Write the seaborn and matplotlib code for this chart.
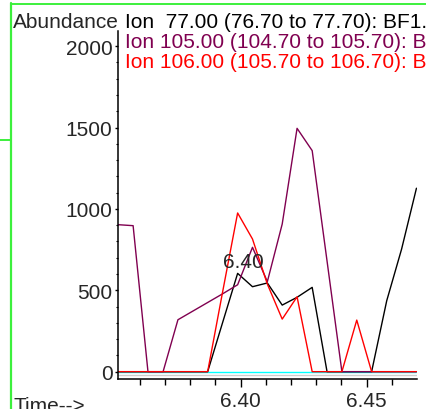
import numpy as np
import matplotlib
matplotlib.use("Agg")
import matplotlib.pyplot as plt
import seaborn as sns
import pandas as pd
from matplotlib.lines import Line2D
from matplotlib.ticker import MultipleLocator, FixedLocator

# scan times (min)
time = [6.3514, 6.3573, 6.3632, 6.3692, 6.3751, 6.3810, 6.3869, 6.3928,
        6.3988, 6.4047, 6.4106, 6.4165, 6.4224, 6.4284, 6.4343, 6.4402,
        6.4461, 6.4520, 6.4580, 6.4639, 6.4698]

ion77 = [0, 0, 0, 0, 0, 0, 0, 300, 604, 522, 545, 409, 457, 518, 0, 0, 0, 0, 436, 753, 1127]
ion105 = [903, 897, 0, 0, 319, 372, 425, 478, 534, 764, 553, 907, 1495, 1358, 680, 0, 0, 0, 0, 0, 0]
ion106 = [0, 0, 0, 0, 0, 0, 0, 487, 975, 815, 538, 323, 460, 0, 0, 0, 317, 0, 0, 0, 0]
other = [0] * len(time)

labels = ["Ion  77.00 (76.70 to 77.70): BF1.D\\data.ms",
          "Ion 105.00 (104.70 to 105.70): BF1.D\\data.ms",
          "Ion 106.00 (105.70 to 106.70): BF1.D\\data.ms"]
peak_label = "6.40"

colors = {"other": "#00ffff", "77": "black", "105": "#800050", "106": "#ff0000"}

frames = []
for key, vals in [("other", other), ("77", ion77), ("105", ion105), ("106", ion106)]:
    frames.append(pd.DataFrame({"time": time, "abundance": vals, "ion": key}))
df = pd.concat(frames, ignore_index=True)

sns.set_style("ticks")
plt.rcParams['font.family'] = ['Liberation Sans', 'DejaVu Sans']

fig = plt.figure(figsize=(4.26, 4.10), dpi=100)
ax = fig.add_axes([118 / 426, 1 - 380 / 410, (416.7 - 118) / 426, (380 - 32) / 410])

ax.axhline(-22, color="#cccccc", lw=1.0, zorder=0)
sns.lineplot(data=df, x="time", y="abundance", hue="ion",
             hue_order=["other", "77", "105", "106"], palette=colors,
             estimator=None, legend=False, lw=1.0, ax=ax)

ax.set_xlim(6.3513, 6.4699)
ax.set_ylim(-45, 2093)
ax.set_xlabel("")
ax.set_ylabel("")
sns.despine(ax=ax)
for s in ["left", "bottom"]:
    ax.spines[s].set_linewidth(1.1)
    ax.spines[s].set_color("black")

ax.set_xticks([6.40, 6.45])
ax.set_xticklabels(["6.40", "6.45"])
ax.xaxis.set_minor_locator(FixedLocator([6.36, 6.37, 6.38, 6.39, 6.41, 6.42, 6.43, 6.44, 6.46]))
ax.yaxis.set_major_locator(MultipleLocator(500))
ax.yaxis.set_minor_locator(MultipleLocator(100))
ax.tick_params(axis="x", which="major", length=5.5, width=1, pad=3, labelsize=15, color="black")
ax.tick_params(axis="x", which="minor", length=4.5, width=1, color="black")
ax.tick_params(axis="y", which="major", length=2.5, width=1, pad=1.5, labelsize=15, color="black")
ax.tick_params(axis="y", which="minor", length=1.3, width=0.8, color="black")

ax.text(6.4012, 641, peak_label, ha="center", va="baseline", fontsize=15)

fig.text(13 / 426, 1 - 28.3 / 410, "Abundance", fontsize=15, va="baseline")
for i, (lab, c) in enumerate(zip(labels, ["black", "#800050", "#ff0000"])):
    fig.text(125 / 426, 1 - (28.3 + 19.6 * i) / 410, lab, fontsize=15, va="baseline", color=c)
fig.text(13.3 / 426, 1 - 412 / 410, "Time-->", fontsize=15, va="baseline")

green = "#3cf03c"
fig.add_artist(Line2D([11.2 / 426, 11.2 / 426], [0, 1 - 4 / 410], color=green, lw=1.6))
fig.add_artist(Line2D([11.2 / 426, 1], [1 - 5 / 410, 1 - 5 / 410], color=green, lw=1.4))
fig.add_artist(Line2D([0, 10.5 / 426], [1 - 140.7 / 410, 1 - 140.7 / 410], color=green, lw=1.4))

fig.savefig("out.png", dpi=100)
